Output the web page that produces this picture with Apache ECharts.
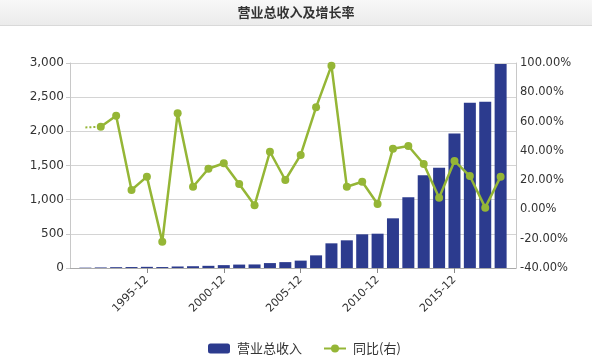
<!DOCTYPE html>
<html>
<head>
<meta charset="utf-8">
<script src="https://cdn.jsdelivr.net/npm/echarts@6/dist/echarts.min.js"></script>
<style>html,body{margin:0;padding:0;background:#fff;}#c{width:592px;height:364px;}</style>
</head>
<body>
<div id="c"></div>
<script>
const titleText = '营业总收入及增长率';
const categories = ['1990-12','1991-12','1992-12','1993-12','1994-12','1995-12','1996-12','1997-12','1998-12','1999-12',
  '2000-12','2001-12','2002-12','2003-12','2004-12','2005-12','2006-12','2007-12','2008-12','2009-12',
  '2010-12','2011-12','2012-12','2013-12','2014-12','2015-12','2016-12','2017-12','2018-12','2019-12'];
const xTickLabels = ['1995-12','2000-12','2005-12','2010-12','2015-12'];
const revenue = [null, 5, 8, 12, 14, 17, 14, 22, 26, 32,
  42, 50, 52, 72, 86, 108, 185, 361, 405, 493,
  502, 727, 1034, 1356, 1468, 1970, 2419, 2433, 2985, null];
const growth = [null, null, 56.5, 64.0, 13.3, 22.4, -22.0, 65.6, 15.5, 27.8,
  31.5, 17.4, 2.8, 39.4, 20.1, 37.2, 69.7, 98.2, 15.5, 18.9,
  3.7, 41.5, 43.3, 31.0, 8.0, 33.1, 22.8, 1.2, 22.4, null];
const growthLead = [null, 56, 56.5, null, null, null, null, null, null, null,
  null, null, null, null, null, null, null, null, null, null,
  null, null, null, null, null, null, null, null, null, null];
const leftTicks = {min: 0, max: 3000, interval: 500};
const rightTicks = {min: -40, max: 100, interval: 20};

const barColor = '#2c3b8e';
const lineColor = '#95b636';
const chart = echarts.init(document.getElementById('c'), null, {renderer: 'canvas'});
const showTick = (i, v) => xTickLabels.indexOf(categories[i]) >= 0;
chart.setOption({
  animation: false,
  backgroundColor: '#fff',
  graphic: [
    {type: 'rect', left: 0, top: 0, shape: {width: 592, height: 25},
     style: {fill: new echarts.graphic.LinearGradient(0, 0, 0, 1, [{offset: 0, color: '#f8f8f8'}, {offset: 1, color: '#ebebeb'}])}, z: -1},
    {type: 'rect', left: 0, top: 25, shape: {width: 592, height: 1}, style: {fill: '#d9d9d9'}, z: -1}
  ],
  title: {
    text: titleText, left: 'center', top: 1,
    textStyle: {fontFamily: 'Noto Sans CJK SC', fontSize: 13, fontWeight: 'bold', color: '#333'}
  },
  legend: {
    left: 203, top: 337, itemGap: 21, itemWidth: 22, itemHeight: 10,
    data: ['营业总收入', '同比(右)'],
    textStyle: {fontFamily: 'Noto Sans CJK SC', fontSize: 13, color: '#333', padding: [0, 0, 0, 2]}
  },
  grid: {left: 70, right: 76, top: 63, bottom: 96},
  xAxis: {
    type: 'category', data: categories, boundaryGap: false,
    axisLine: {lineStyle: {color: '#aaa'}},
    axisTick: {show: true, length: 5, interval: showTick, lineStyle: {color: '#888'}},
    axisLabel: {interval: showTick, rotate: 45, margin: 10, fontFamily: 'DejaVu Sans', fontSize: 11, color: '#333'},
    splitLine: {show: false}
  },
  yAxis: [
    {type: 'value', min: leftTicks.min, max: leftTicks.max, interval: leftTicks.interval,
     axisLine: {show: true, lineStyle: {color: '#c8c8c8'}},
     axisTick: {show: true, length: 4, lineStyle: {color: '#c8c8c8'}},
     axisLabel: {margin: 6, fontFamily: 'DejaVu Sans', fontSize: 12, color: '#333',
       formatter: v => String(v).replace(/\B(?=(\d{3})+(?!\d))/g, ',')},
     splitLine: {show: true, lineStyle: {color: '#d4d4d4'}}},
    {type: 'value', min: rightTicks.min, max: rightTicks.max, interval: rightTicks.interval,
     axisLine: {show: true, lineStyle: {color: '#c8c8c8'}},
     axisTick: {show: false},
     axisLabel: {margin: 4, fontFamily: 'DejaVu Sans', fontSize: 11.5, color: '#333',
       formatter: v => v.toFixed(2) + '%'},
     splitLine: {show: false}}
  ],
  series: [
    {name: '营业总收入', type: 'bar', data: revenue, barWidth: 12, yAxisIndex: 0,
     itemStyle: {color: barColor}},
    {name: 'lead', type: 'line', data: growthLead, yAxisIndex: 1, showSymbol: false, symbol: 'none',
     lineStyle: {color: lineColor, width: 2, type: [2, 2]}, z: 3},
    {name: '同比(右)', type: 'line', data: growth, yAxisIndex: 1, symbol: 'circle', symbolSize: 8,
     itemStyle: {color: lineColor}, lineStyle: {color: lineColor, width: 2.5}, z: 4}
  ]
});
</script>
</body>
</html>
